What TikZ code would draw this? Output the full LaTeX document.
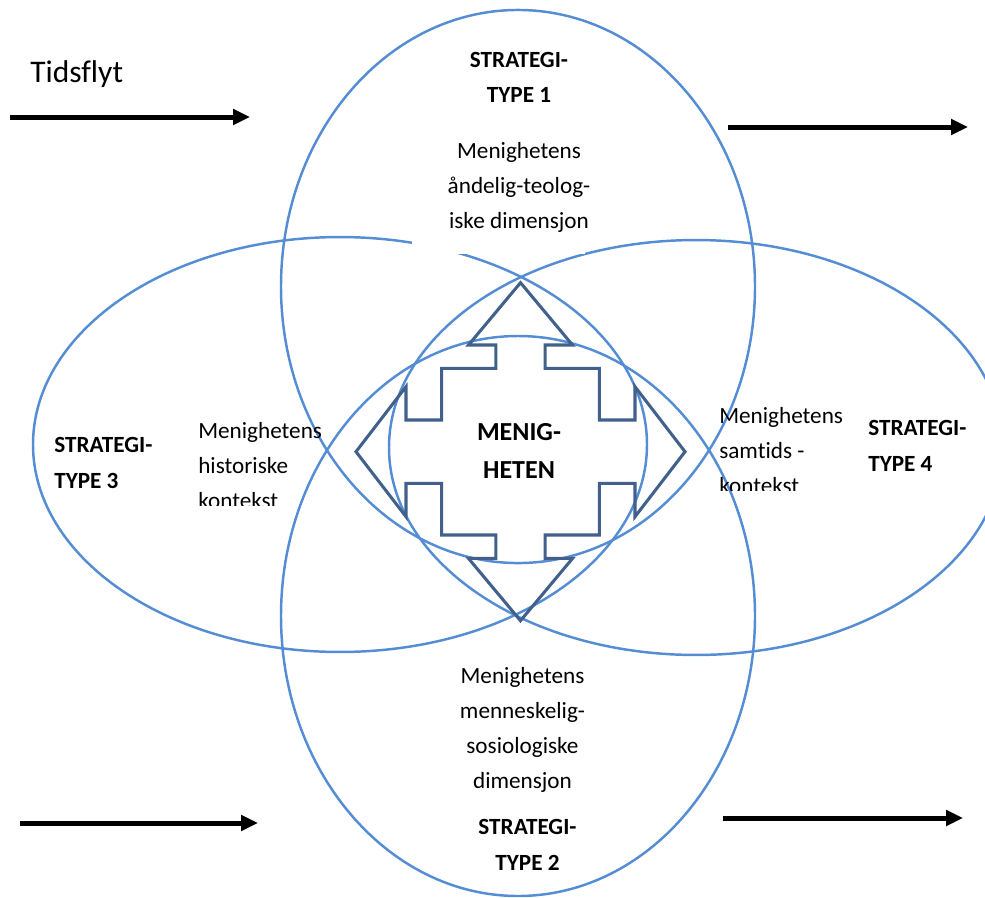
\documentclass[tikz,border=0pt]{standalone}
\usepackage{fontspec}
\setmainfont{Carlito}[Ligatures=NoCommon]
\usetikzlibrary{arrows.meta}
\definecolor{ellblue}{HTML}{558DD4}
\definecolor{crossblue}{HTML}{41618C}
\begin{document}
\begin{tikzpicture}[x=0.75pt,y=-0.75pt,
  ell/.style={draw=ellblue,line width=1.85pt},
  flow/.style={line width=3.75pt,-{Triangle[length=12.75pt,width=11.5pt]}},
  body/.style={inner sep=0pt,font=\fontsize{17.4pt}{26.25pt}\selectfont},
  strat/.style={inner sep=0pt,font=\fontsize{17.4pt}{26.5pt}\selectfont\bfseries},
  crossline/.style={draw=crossblue,line width=2.3pt,line join=miter}]
\clip (0,0) rectangle (985,897);
% ellipses
\draw[ell] (518,286.5) ellipse [x radius=177.75pt, y radius=207.4pt];
\draw[ell] (518,616) ellipse [x radius=177.75pt, y radius=210pt];
\draw[ell] (340,444.5) ellipse [x radius=230.25pt, y radius=155.6pt];
\draw[ell] (696,447.5) ellipse [x radius=230.25pt, y radius=155.6pt];
% white text box of the top label
\fill[white] (412,125) rectangle (585,254);
% four-way arrow
\begin{scope}[shift={(520.5,451.7)}]
\draw[crossline] (0,-169) -- (52,-106.7) -- (24.7,-106.7) -- (24.7,-83.3) -- (78.8,-83.3) -- (78.8,-31.7)
  -- (114.5,-31.7) -- (114.5,-65) -- (164.5,0) -- (114.5,65) -- (114.5,31.7) -- (78.8,31.7) -- (78.8,83.3)
  -- (24.7,83.3) -- (24.7,106.7) -- (52,106.7) -- (0,169) -- (-52,106.7) -- (-24.7,106.7) -- (-24.7,83.3)
  -- (-78.8,83.3) -- (-78.8,31.7) -- (-114.5,31.7) -- (-114.5,65) -- (-164.5,0) -- (-114.5,-65)
  -- (-114.5,-31.7) -- (-78.8,-31.7) -- (-78.8,-83.3) -- (-24.7,-83.3) -- (-24.7,-106.7) -- (-52,-106.7) -- cycle;
\end{scope}
% time arrows
\coordinate (tl1) at (10,117);  \coordinate (tl2) at (250,117);
\coordinate (tr1) at (728,127); \coordinate (tr2) at (968,127);
\coordinate (bl1) at (20,823);  \coordinate (bl2) at (258,823);
\coordinate (br1) at (723,818); \coordinate (br2) at (963,818);
\draw[flow] (tl1) -- (tl2);
\draw[flow] (tr1) -- (tr2);
\draw[flow] (bl1) -- (bl2);
\draw[flow] (br1) -- (br2);
% texts (base anchor = baseline of the last line)
\node[inner sep=0pt,anchor=base west,font=\fontsize{23.6pt}{28pt}\selectfont] (tid) at (30,82) {Tidsflyt};
\node[strat,anchor=base,align=center] (s1) at (519,102.7) {STRATEGI-\\TYPE 1};
\node[body,anchor=base,align=center] (d1) at (519,228) {Menighetens\\åndelig-teolog-\\iske dimensjon};
\node[strat,anchor=base west,align=left] (s3) at (54,488) {STRATEGI-\\TYPE 3};
\node[strat,anchor=base west,align=left] (s4) at (868,471) {STRATEGI-\\TYPE 4};
\node[body,anchor=base,align=center] (d2) at (522.5,788) {Menighetens\\menneskelig-\\sosiologiske\\dimensjon};
\node[strat,anchor=base,align=center] (s2) at (527.5,870) {STRATEGI-\\TYPE 2};
\begin{scope}
\clip (150,380) rectangle (330,505.5);
\node[body,anchor=base west,align=left] (d3) at (198,508) {Menighetens\\historiske\\kontekst};
\end{scope}
\begin{scope}
\clip (700,380) rectangle (870,490.5);
\node[body,anchor=base west,align=left] (d4) at (719,493) {Menighetens\\samtids -\\kontekst};
\end{scope}
\node[inner sep=0pt,anchor=base,align=center,font=\fontsize{19.5pt}{28.5pt}\selectfont\bfseries] (m) at (519,478) {MENIG-\\HETEN};
\end{tikzpicture}
\end{document}
